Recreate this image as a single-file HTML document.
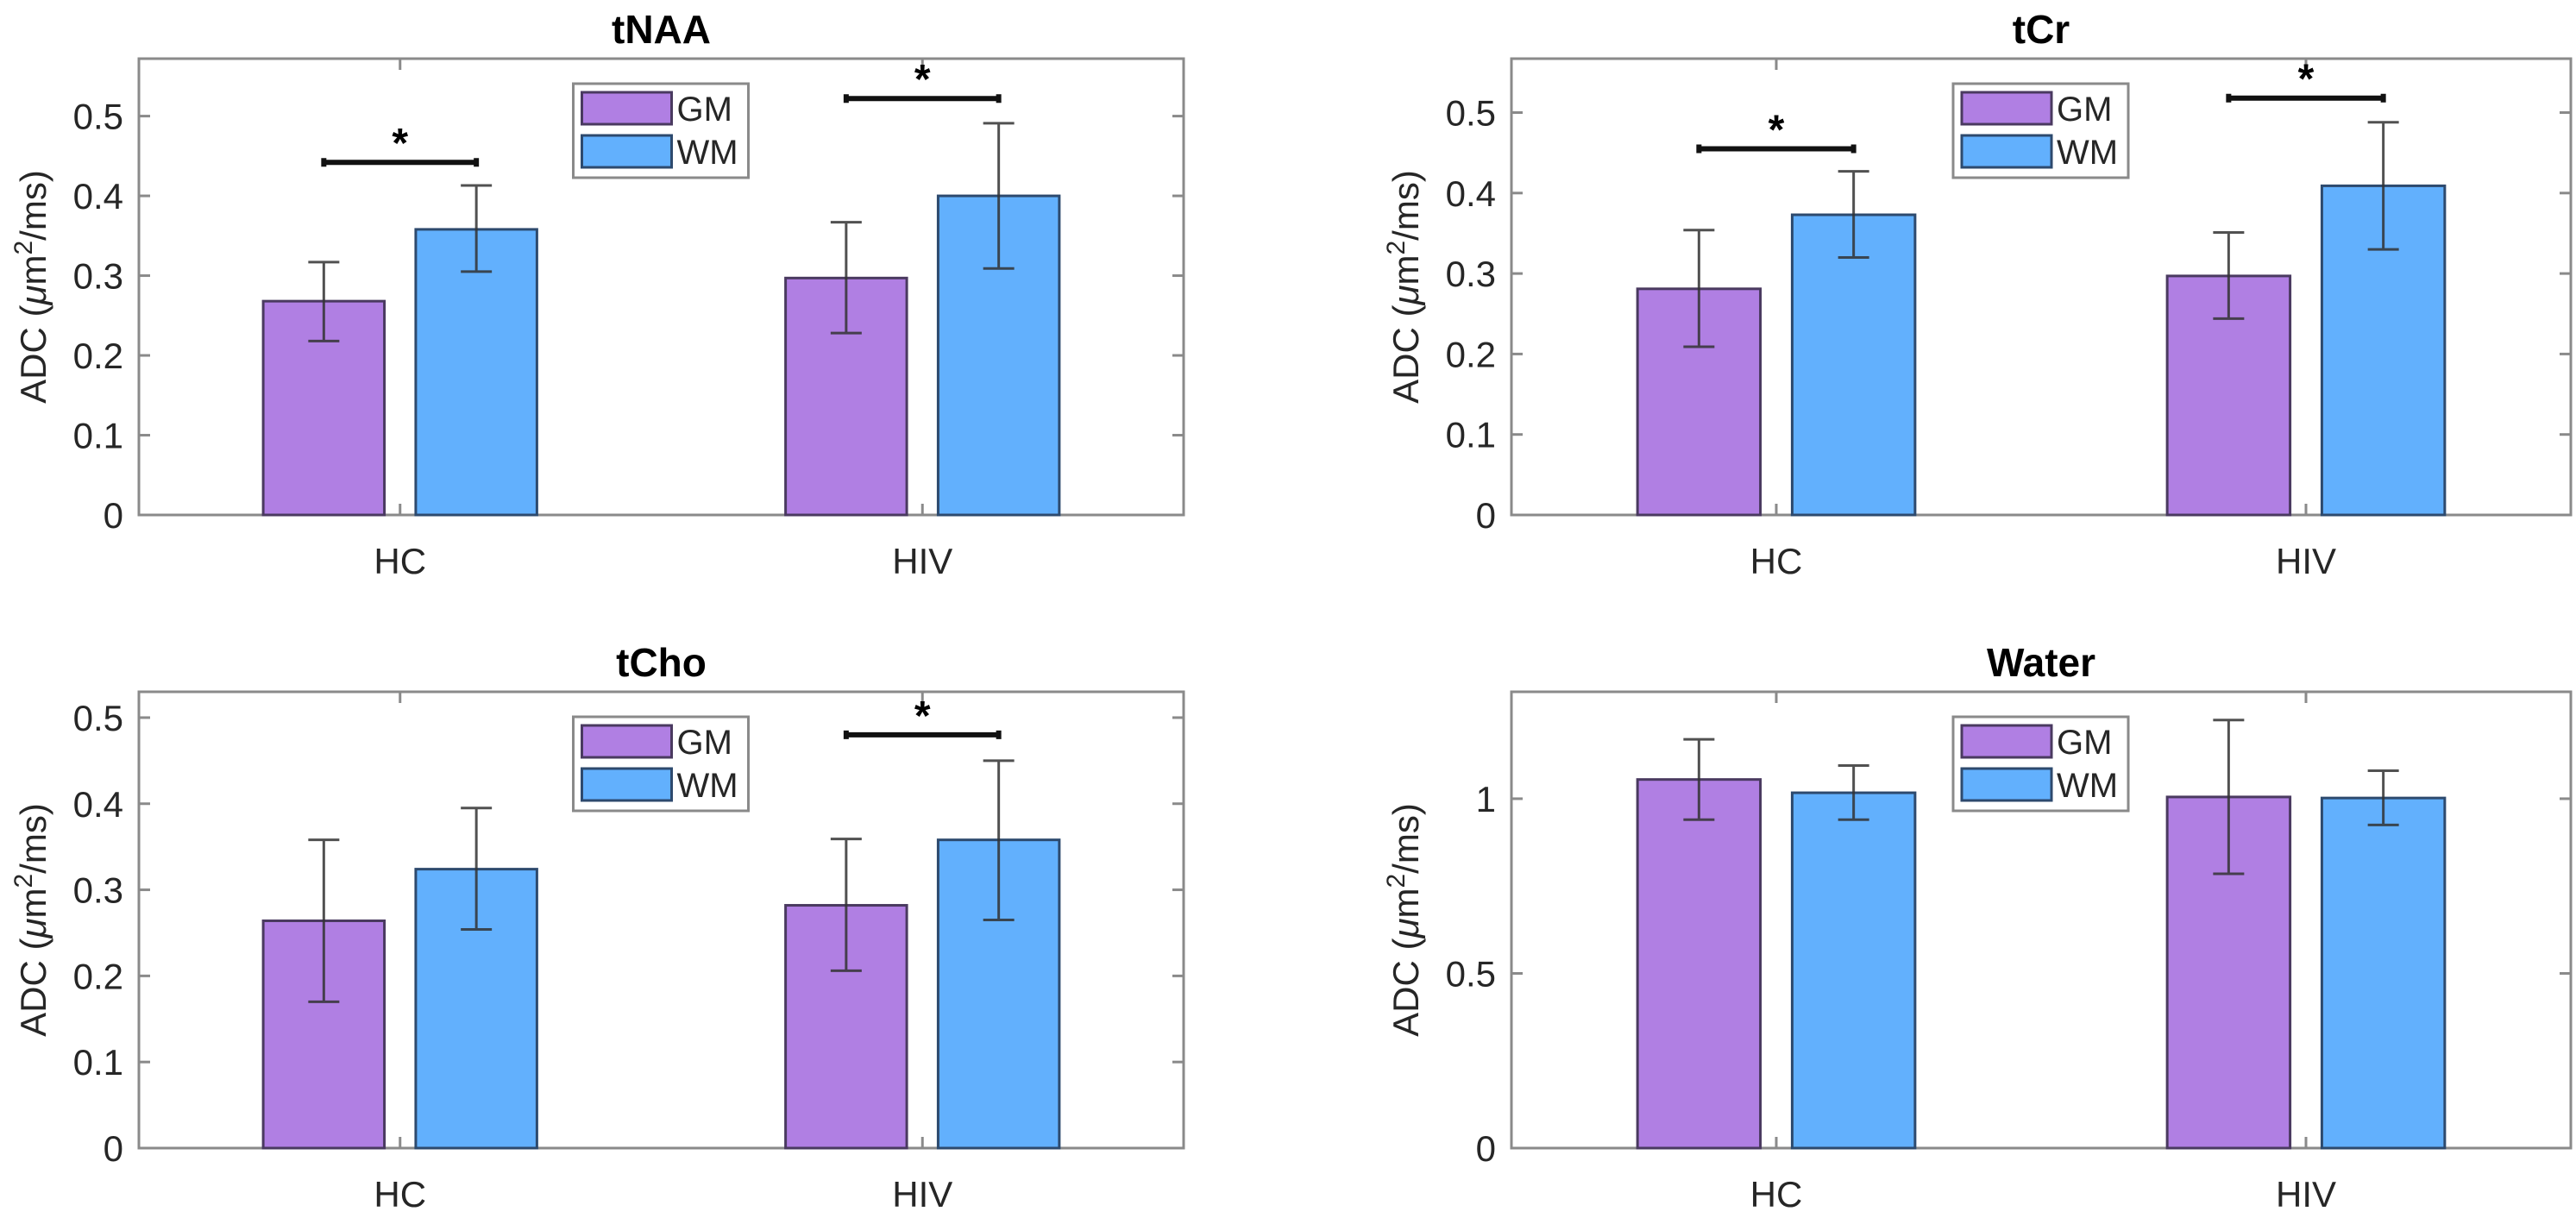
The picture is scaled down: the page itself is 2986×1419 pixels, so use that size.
<!DOCTYPE html>
<html><head><meta charset="utf-8"><style>
html,body{margin:0;padding:0;background:#fff;}
svg{display:block;font-family:"Liberation Sans",Arial,sans-serif;}
</style></head><body>
<svg id="fig" width="2986" height="1419" viewBox="0 0 2986 1419" xmlns="http://www.w3.org/2000/svg"></svg>
<script>
const categories = ["HC","HIV"];
const seriesNames = ["GM","WM"];
const panelTitles = ["tNAA","tCr","tCho","Water"];
const yMaxes = [0.572, 0.567, 0.53, 1.306];
const yTicks0 = [0,0.1,0.2,0.3,0.4,0.5];
const yTicksWater = [0,0.5,1];
const yTickLabels0 = ["0","0.1","0.2","0.3","0.4","0.5"];
const yTickLabelsWater = ["0","0.5","1"];
// values [panel][category] for GM and WM
const gmMeans = [[0.268,0.297],[0.281,0.297],[0.264,0.282],[1.055,1.005]];
const gmLow   = [[0.218,0.228],[0.209,0.244],[0.170,0.206],[0.940,0.785]];
const gmHigh  = [[0.317,0.367],[0.354,0.351],[0.358,0.359],[1.170,1.225]];
const wmMeans = [[0.358,0.400],[0.373,0.409],[0.324,0.358],[1.017,1.002]];
const wmLow   = [[0.305,0.309],[0.320,0.330],[0.254,0.265],[0.940,0.925]];
const wmHigh  = [[0.413,0.491],[0.427,0.488],[0.395,0.450],[1.095,1.080]];
// significance bar heights (null = none)
const sigLevels = [[0.442,0.522],[0.455,0.518],[null,0.480],[null,null]];

const svg = document.getElementById('fig');
const NS = "http://www.w3.org/2000/svg";
function mk(tag, attrs, parent){
  const e = document.createElementNS(NS, tag);
  for (const k in attrs) e.setAttribute(k, attrs[k]);
  (parent||svg).appendChild(e);
  return e;
}
const boxes = [
  {x0:161, x1:1372, y0:68, y1:597},
  {x0:1752, x1:2980, y0:68, y1:597},
  {x0:161, x1:1372, y0:802, y1:1331},
  {x0:1752, x1:2980, y0:802, y1:1331}
];
const colors = {GM:{fill:"#b07fe3",stroke:"#4a3a60"}, WM:{fill:"#62b0fd",stroke:"#2d4a6e"}};
const BAR_W = 0.232, OFF = 0.146;

boxes.forEach((b,p)=>{
  const g = mk('g',{});
  
  
  const xs = v => b.x0 + (v - 0.5) / 2 * (b.x1 - b.x0);
  const ys = v => b.y1 - v / yMaxes[p] * (b.y1 - b.y0);
  // axes box
  const box = mk('rect',{x:b.x0,y:b.y0,width:b.x1-b.x0,height:b.y1-b.y0,fill:"#fff",stroke:"#8a8a8a","stroke-width":3},g);
  
  
  // title
  const t = mk('text',{x:(b.x0+b.x1)/2,y:b.y0-18,"text-anchor":"middle","font-size":46,"font-weight":"bold",fill:"#000"},g);
  t.textContent = panelTitles[p];
  
  
  // y ticks
  const ticks = p===3 ? yTicksWater : yTicks0;
  const tl = p===3 ? yTickLabelsWater : yTickLabels0;
  ticks.forEach((v,i)=>{
    const y = ys(v);
    mk('line',{x1:b.x0,x2:b.x0+13,y1:y,y2:y,stroke:"#8a8a8a","stroke-width":3},g);
    mk('line',{x1:b.x1,x2:b.x1-13,y1:y,y2:y,stroke:"#8a8a8a","stroke-width":3},g);
    const lab = mk('text',{x:b.x0-18,y:y+15,"text-anchor":"end","font-size":42,fill:"#262626"},g);
    lab.textContent = tl[i];
    
    
  });
  // y axis title
  const yl = mk('text',{transform:`translate(${b.x0-108},${(b.y0+b.y1)/2}) rotate(-90)`,"text-anchor":"middle","font-size":42,fill:"#262626"},g);
  yl.innerHTML = 'ADC (<tspan font-style="italic">μ</tspan>m<tspan dy="-16" font-size="30">2</tspan><tspan dy="16">/ms)</tspan>';
  
  
  // categories
  categories.forEach((c,ci)=>{
    const cx = xs(ci+1);
    mk('line',{x1:cx,x2:cx,y1:b.y1,y2:b.y1-13,stroke:"#8a8a8a","stroke-width":3},g);
    mk('line',{x1:cx,x2:cx,y1:b.y0,y2:b.y0+13,stroke:"#8a8a8a","stroke-width":3},g);
    const xl = mk('text',{x:cx,y:b.y1+68,"text-anchor":"middle","font-size":42,fill:"#262626"},g);
    xl.textContent = c;
    
    
    const sets = [
      {name:"GM", m:gmMeans[p][ci], lo:gmLow[p][ci], hi:gmHigh[p][ci], off:-OFF},
      {name:"WM", m:wmMeans[p][ci], lo:wmLow[p][ci], hi:wmHigh[p][ci], off:OFF}
    ];
    sets.forEach(s=>{
      const bx = xs(ci+1+s.off-BAR_W/2), bw = xs(ci+1+s.off+BAR_W/2)-bx;
      const r = mk('rect',{x:bx,y:ys(s.m),width:bw,height:ys(0)-ys(s.m),fill:colors[s.name].fill,stroke:colors[s.name].stroke,"stroke-width":3},g);
      
      
      const ex = xs(ci+1+s.off);
      const eb = mk('path',{d:`M${ex},${ys(s.lo)}V${ys(s.hi)}M${ex-18},${ys(s.lo)}H${ex+18}M${ex-18},${ys(s.hi)}H${ex+18}`,stroke:"#333","stroke-opacity":0.85,"stroke-width":3,fill:"none"},g);
      
      
    });
    const sl = sigLevels[p][ci];
    if (sl !== null) {
      const sx1 = xs(ci+1-OFF), sx2 = xs(ci+1+OFF), sy = ys(sl);
      const sb = mk('path',{d:`M${sx1},${sy}H${sx2}M${sx1},${sy-5}V${sy+5}M${sx2},${sy-5}V${sy+5}`,stroke:"#111","stroke-width":6,fill:"none"},g);
      
      
      const st = mk('text',{x:cx,y:sy-6,"text-anchor":"middle","font-size":48,"font-weight":"bold",fill:"#000"},g);
      st.textContent = "*";
      
      
    }
  });
  // legend
  const lx = (b.x0+b.x1)/2 - 102, ly = b.y0 + 29;
  const lg = mk('g',{},g);
  
  
  mk('rect',{x:lx,y:ly,width:203,height:109,fill:"#fff",stroke:"#8a8a8a","stroke-width":3},lg);
  seriesNames.forEach((n,i)=>{
    const e = mk('g',{},lg);
    
    
    mk('rect',{x:lx+10,y:ly+10+i*50,width:104,height:37,fill:colors[n].fill,stroke:colors[n].stroke,"stroke-width":3},e);
    const tx = mk('text',{x:lx+120,y:ly+43+i*50,"font-size":40,fill:"#262626"},e);
    tx.textContent = n;
  });
});
</script>
</body></html>
